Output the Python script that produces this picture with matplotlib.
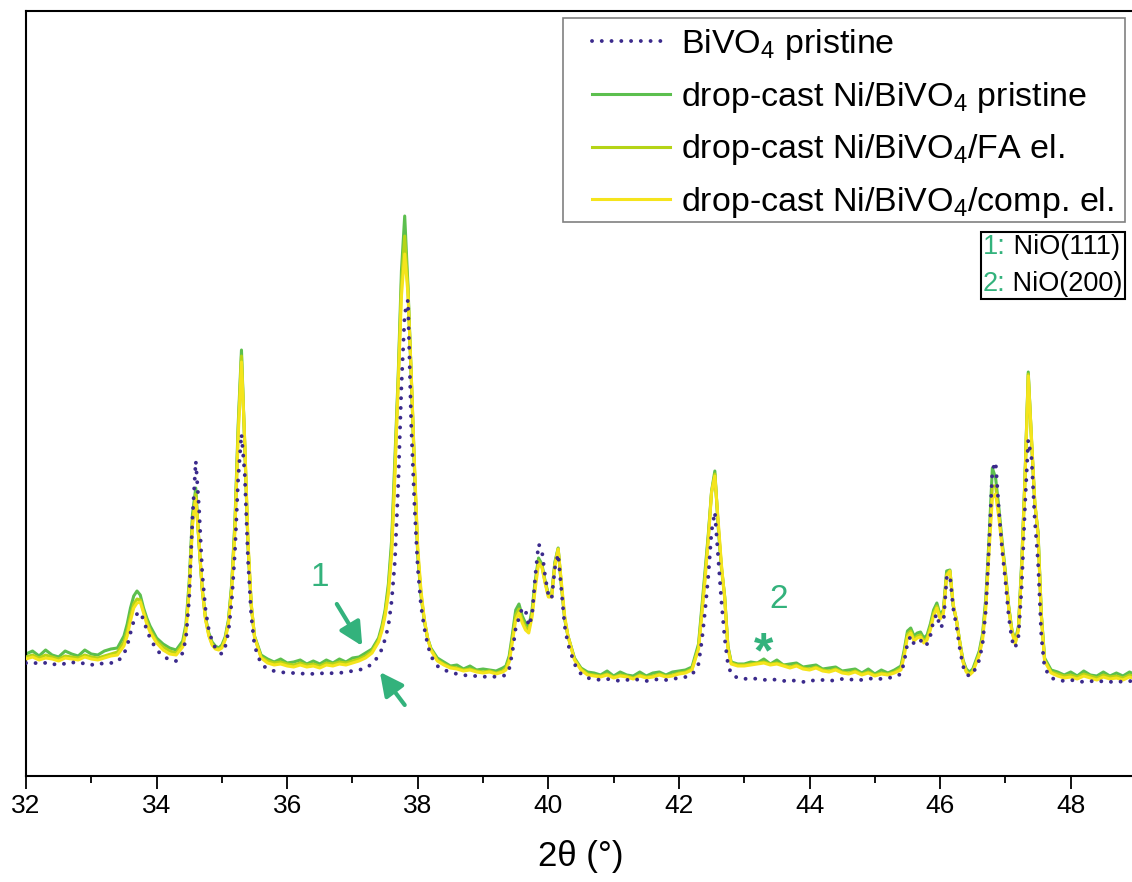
import matplotlib
matplotlib.use("Agg")
import matplotlib.pyplot as plt
from matplotlib.lines import Line2D
from matplotlib.patches import Rectangle
from matplotlib.offsetbox import TextArea, HPacker, VPacker, AnchoredOffsetbox

plt.rcParams['font.family'] = ['Liberation Sans', 'DejaVu Sans']
plt.rcParams['mathtext.default'] = 'regular'

# 2theta grid (deg), shared by all four patterns
two_theta = [
    32.0, 32.1, 32.2, 32.3, 32.4, 32.5, 32.6, 32.7, 32.8, 32.9, 33.0, 33.1, 33.2, 33.3,
    33.4, 33.5, 33.55, 33.6, 33.65, 33.7, 33.75, 33.8, 33.85, 33.9, 34.0, 34.1, 34.2, 34.3,
    34.4, 34.45, 34.5, 34.55, 34.6, 34.65, 34.7, 34.75, 34.8, 34.85, 34.9, 34.95,
    35.0, 35.05, 35.1, 35.15, 35.2, 35.25, 35.3, 35.35, 35.4, 35.45, 35.5, 35.6,
    35.7, 35.8, 35.9, 36.0, 36.1, 36.2, 36.3, 36.4, 36.5, 36.6, 36.7, 36.8, 36.9, 37.0, 37.1, 37.2,
    37.3, 37.4, 37.45, 37.5, 37.55, 37.6, 37.65, 37.7, 37.75, 37.8, 37.85, 37.9, 37.95, 38.0,
    38.05, 38.1, 38.15, 38.2, 38.3,
    38.4, 38.5, 38.6, 38.7, 38.8, 38.9, 39.0, 39.1, 39.2, 39.3,
    39.35, 39.4, 39.45, 39.5, 39.55, 39.6, 39.65, 39.7, 39.75, 39.8, 39.85, 39.9, 39.95, 40.0,
    40.05, 40.1, 40.15, 40.2, 40.25, 40.3, 40.4, 40.5, 40.6,
    40.7, 40.8, 40.9, 41.0, 41.1, 41.2, 41.3, 41.4, 41.5, 41.6, 41.7, 41.8, 41.9, 42.0, 42.1,
    42.2, 42.3, 42.35, 42.4, 42.45, 42.5, 42.55, 42.6, 42.65, 42.7, 42.75, 42.8, 42.9,
    43.0, 43.1, 43.2, 43.3, 43.4, 43.5, 43.6, 43.7, 43.8, 43.9, 44.0, 44.1, 44.2, 44.3, 44.4,
    44.5, 44.6, 44.7, 44.8, 44.9, 45.0, 45.1, 45.2, 45.3,
    45.4, 45.45, 45.5, 45.55, 45.6, 45.65, 45.7, 45.75, 45.8, 45.85, 45.9, 45.95, 46.0, 46.05,
    46.1, 46.15, 46.2, 46.25, 46.3, 46.35, 46.4, 46.45, 46.5, 46.6,
    46.65, 46.7, 46.75, 46.8, 46.85, 46.9, 46.95, 47.0, 47.05, 47.1, 47.15, 47.2, 47.25, 47.3,
    47.35, 47.4, 47.45, 47.5, 47.55, 47.6, 47.7,
    47.8, 47.9, 48.0, 48.1, 48.2, 48.3, 48.4, 48.5, 48.6, 48.7, 48.8, 48.9, 49.0,
]

bivo4_pristine = [
    113, 112, 114, 113, 111, 113, 112, 114, 112, 113, 111, 113, 112, 113,
    114, 122, 130, 143, 155, 162, 164, 156, 146, 138, 126, 120, 116, 115,
    123, 138, 178, 258, 315, 268, 202, 166, 146, 135, 128, 124,
    122, 129, 144, 174, 224, 298, 342, 302, 216, 160, 130, 112,
    107, 105, 104, 103, 103, 102, 103, 102, 103, 102, 103, 103, 104, 105, 106, 108,
    112, 120, 127, 137, 150, 175, 215, 290, 390, 462, 476, 350, 270, 208,
    170, 148, 132, 120, 110,
    106, 104, 102, 101, 100, 100, 99, 100, 99, 100,
    101, 107, 124, 148, 158, 168, 166, 150, 160, 200, 232, 226, 200, 181,
    177, 208, 222, 186, 150, 132, 112, 102, 98,
    97, 96, 97, 96, 95, 96, 97, 96, 95, 96, 97, 96, 97, 98, 99,
    101, 112, 135, 165, 200, 245, 264, 220, 175, 138, 112, 102, 98,
    97, 98, 97, 96, 97, 96, 95, 96, 95, 94, 96, 95, 96, 95, 96,
    97, 96, 97, 96, 97, 98, 97, 98, 99,
    102, 114, 133, 140, 132, 135, 136, 130, 132, 140, 156, 162, 148, 152,
    198, 201, 168, 150, 128, 110, 102, 100, 102, 116,
    132, 166, 232, 306, 314, 266, 226, 195, 160, 136, 128, 140, 190, 270,
    336, 318, 256, 214, 140, 108, 98,
    96, 95, 96, 95, 94, 95, 94, 95, 94, 95, 94, 95, 94,
]

ni_pristine = [
    122, 125, 120, 126, 121, 119, 125, 122, 120, 126, 122, 121, 125, 127,
    128, 140, 152, 168, 180, 185, 181, 168, 158, 150, 138, 132, 128, 126,
    135, 152, 195, 262, 288, 232, 186, 158, 143, 134, 130, 128,
    131, 139, 156, 192, 255, 352, 426, 330, 230, 170, 140, 121,
    117, 114, 117, 113, 114, 116, 112, 115, 112, 116, 113, 117, 114, 118, 119, 123,
    127, 138, 150, 166, 192, 236, 318, 400, 505, 560, 490, 400, 305, 220,
    180, 155, 138, 128, 118,
    114, 110, 111, 107, 110, 106, 107, 106, 105, 108,
    110, 120, 142, 166, 172, 160, 153, 149, 166, 196, 218, 212, 195, 182,
    181, 214, 228, 190, 157, 140, 118, 108, 104,
    103, 101, 105, 100, 104, 101, 100, 104, 100, 103, 104, 101, 104, 105, 106,
    109, 132, 168, 205, 242, 285, 305, 250, 208, 180, 130, 114, 112,
    112, 114, 113, 117, 112, 116, 111, 112, 113, 109, 110, 111, 107, 108, 109,
    105, 106, 107, 103, 107, 102, 106, 103, 106,
    110, 126, 145, 148, 140, 143, 144, 138, 141, 152, 166, 173, 161, 166,
    205, 206, 170, 156, 135, 116, 107, 104, 107, 125,
    142, 178, 238, 308, 298, 268, 234, 204, 170, 146, 135, 150, 215, 300,
    404, 335, 272, 244, 162, 118, 106,
    104, 101, 104, 100, 105, 101, 100, 104, 100, 103, 100, 104, 101,
]

ni_fa = [
    119, 121, 118, 121, 119, 117, 120, 119, 118, 121, 119, 118, 120, 122,
    124, 134, 145, 160, 172, 177, 176, 165, 155, 146, 135, 129, 125, 123,
    132, 148, 190, 255, 282, 232, 186, 157, 141, 132, 128, 127,
    129, 137, 154, 189, 250, 346, 420, 333, 232, 171, 139, 119,
    115, 113, 114, 112, 111, 113, 111, 112, 110, 113, 112, 114, 113, 115, 117, 120,
    125, 136, 147, 163, 187, 228, 308, 395, 492, 540, 486, 401, 308, 224,
    182, 156, 138, 127, 116,
    112, 109, 108, 106, 107, 105, 104, 105, 103, 105,
    108, 117, 138, 161, 167, 156, 149, 146, 162, 192, 215, 210, 194, 180,
    180, 212, 227, 191, 158, 140, 117, 107, 102,
    101, 100, 102, 99, 101, 100, 98, 101, 99, 100, 102, 100, 101, 103, 104,
    107, 129, 164, 200, 239, 284, 302, 253, 210, 179, 129, 113, 111,
    111, 112, 113, 114, 112, 113, 111, 109, 111, 108, 107, 109, 106, 105, 107,
    104, 103, 105, 102, 104, 101, 103, 102, 104,
    108, 123, 142, 145, 137, 140, 141, 135, 138, 149, 163, 170, 159, 164,
    202, 205, 171, 156, 134, 115, 105, 102, 105, 123,
    139, 173, 231, 290, 290, 263, 231, 202, 169, 145, 133, 148, 211, 298,
    402, 336, 273, 242, 161, 116, 104,
    102, 100, 101, 99, 102, 100, 98, 101, 99, 100, 98, 101, 99,
]

ni_comp = [
    117, 119, 116, 118, 117, 115, 118, 117, 116, 119, 117, 116, 118, 120,
    121, 130, 140, 155, 168, 173, 174, 163, 152, 144, 133, 126, 122, 121,
    129, 145, 185, 250, 278, 234, 186, 156, 140, 131, 127, 126,
    128, 136, 152, 186, 245, 340, 414, 335, 235, 172, 139, 118,
    113, 111, 112, 110, 109, 111, 109, 110, 108, 111, 110, 112, 111, 113, 115, 118,
    123, 134, 145, 160, 182, 222, 300, 390, 480, 522, 482, 402, 312, 228,
    185, 157, 138, 126, 115,
    111, 108, 107, 105, 106, 104, 103, 104, 102, 104,
    106, 114, 134, 156, 163, 153, 146, 143, 159, 188, 212, 209, 193, 179,
    179, 210, 227, 193, 160, 140, 116, 106, 101,
    100, 99, 101, 98, 100, 99, 97, 100, 98, 99, 101, 99, 100, 102, 103,
    106, 127, 160, 196, 236, 284, 300, 256, 212, 178, 128, 112, 110,
    110, 111, 112, 113, 111, 112, 110, 108, 110, 107, 106, 108, 105, 104, 106,
    103, 102, 104, 101, 103, 100, 102, 101, 103,
    106, 120, 139, 143, 135, 138, 139, 133, 136, 146, 160, 168, 157, 162,
    200, 205, 172, 156, 134, 114, 104, 101, 104, 121,
    136, 168, 225, 278, 282, 258, 228, 200, 168, 144, 132, 146, 208, 295,
    400, 338, 275, 240, 160, 115, 103,
    100, 98, 99, 97, 100, 98, 96, 99, 97, 98, 96, 99, 97,
]

labels = ['BiVO$_4$ pristine',
          'drop-cast Ni/BiVO$_4$ pristine',
          'drop-cast Ni/BiVO$_4$/FA el.',
          'drop-cast Ni/BiVO$_4$/comp. el.']
c_purple = '#3b2a8c'
c_green = '#5cbf4e'
c_lime = '#b5d416'
c_yellow = '#f5e41c'
c_note = '#33b27c'
dots = (0, (0.01, 2.5))

fig = plt.figure(figsize=(11.32, 8.82), dpi=100)
ax = fig.add_axes([26 / 1132, 106 / 882, 1110 / 1132, 765 / 882])

ax.plot(two_theta, ni_pristine, color=c_green, lw=2.2, zorder=2)
ax.plot(two_theta, ni_fa, color=c_lime, lw=2.2, zorder=3)
ax.plot(two_theta, ni_comp, color=c_yellow, lw=2.2, zorder=4)
ax.plot(two_theta, bivo4_pristine, color=c_purple, lw=2.8,
        linestyle=dots, dash_capstyle='round', zorder=5)

ax.set_xlim(32, 49)
ax.set_ylim(0, 765)
ax.set_yticks([])
ax.set_xticks(range(32, 50, 2))
ax.set_xticks(range(33, 50, 2), minor=True)
ax.tick_params(axis='x', which='major', direction='out', length=9, width=1.3,
               labelsize=19, pad=4)
ax.tick_params(axis='x', which='minor', direction='out', length=5, width=1.3)
for s in ax.spines.values():
    s.set_linewidth(1.5)
ax.set_xlabel('2θ (°)', fontsize=25, labelpad=16)

# legend (frame drawn separately so the handles can sit further in)
handles = [
    Line2D([], [], color=c_purple, lw=2.8, linestyle=dots, dash_capstyle='round'),
    Line2D([], [], color=c_green, lw=2.2),
    Line2D([], [], color=c_lime, lw=2.2),
    Line2D([], [], color=c_yellow, lw=2.2),
]
leg = ax.legend(handles, labels, loc='upper left', bbox_to_anchor=(0.5095, 0.979),
                borderaxespad=0, borderpad=0, fontsize=24.5, handlelength=2.3,
                handletextpad=0.32, labelspacing=0.52, frameon=False)
leg.set_zorder(10)
ax.add_patch(Rectangle((0.4838, 0.7242), 0.990 - 0.4838, 0.9908 - 0.7242,
                       transform=ax.transAxes, facecolor='white', edgecolor='#808080',
                       lw=1.2, zorder=9))

# NiO reflections box
rows = []
for num, name in [('1:', ' NiO(111)'), ('2:', ' NiO(200)')]:
    rows.append(HPacker(children=[
        TextArea(num, textprops=dict(color=c_note, fontsize=19.5)),
        TextArea(name, textprops=dict(color='black', fontsize=19.5)),
    ], pad=0, sep=0))
box = AnchoredOffsetbox(loc='upper right', child=VPacker(children=rows, pad=0, sep=8),
                        bbox_to_anchor=(0.990, 0.711), bbox_transform=ax.transAxes,
                        borderpad=0, pad=0.15, frameon=True)
box.patch.set_edgecolor('black')
box.patch.set_linewidth(1.5)
box.patch.set_boxstyle('square', pad=0)
ax.add_artist(box)

# peak markers
arrow = dict(arrowstyle='-|>,head_length=0.7,head_width=0.35', color=c_note, lw=3,
             mutation_scale=20, shrinkA=0, shrinkB=0)
ax.annotate('', xy=(37.15, 130), xytext=(36.76, 172), arrowprops=arrow)
ax.annotate('', xy=(37.42, 104), xytext=(37.80, 71), arrowprops=arrow)
ax.text(36.50, 198, '1', color=c_note, fontsize=24, ha='center', va='center')
ax.text(43.52, 176, '2', color=c_note, fontsize=24, ha='center', va='center')
ax.text(43.29, 122, '*', color=c_note, fontsize=36, fontweight='bold',
        ha='center', va='center')

fig.savefig('out.png', dpi=100)
